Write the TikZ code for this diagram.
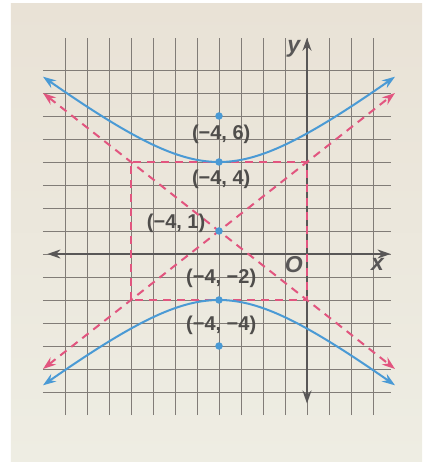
\documentclass[tikz,border=0pt]{standalone}
\usepackage{fontspec}
\setmainfont{Liberation Sans}
\usetikzlibrary{arrows.meta}
\definecolor{paperi1}{HTML}{E9E2D6}
\definecolor{paperi2}{HTML}{EEEDE3}
\definecolor{ruudukko}{HTML}{817C77}
\definecolor{akseli}{HTML}{595757}
\definecolor{sininen}{HTML}{4A9AD5}
\definecolor{punainen}{HTML}{E2557F}
\definecolor{teksti}{HTML}{4F4D4B}

\begin{document}
\begin{tikzpicture}[x=22pt,y=23pt,>={Stealth[length=13pt,width=9pt]},
		piste/.style={circle,fill=sininen,inner sep=0pt,minimum size=7.5pt},
		nimi/.style={text=teksti,font=\bfseries\fontsize{20}{20}\selectfont,inner sep=0pt},
		akselinimi/.style={text=akseli,font=\bfseries\itshape\fontsize{23}{23}\selectfont,inner sep=0pt},
		katko/.style={punainen,line width=2pt,dash pattern=on 8pt off 6pt}]
				\useasboundingbox (-307pt,-208pt) rectangle (115pt,254pt);
				\fill[white] (-307pt,-208pt) rectangle (115pt,254pt);
				\shade[top color=paperi1,bottom color=paperi2] (-296pt,-207pt) rectangle (115pt,250pt);
				% ruudukko
				\foreach \x in {-11,...,3}
					\draw[ruudukko,line width=0.8pt] (\x,-7) -- (\x,9.4);
				\foreach \y in {-6,...,8}
					\draw[ruudukko,line width=0.8pt] (-12,\y) -- (3.8,\y);
				% akselit
				\draw[akseli,line width=2pt,<->] (-11.8,0) -- (3.8,0);
				\draw[akseli,line width=2pt,<->] (0,-6.5) -- (0,9.4);
				\node[akselinimi] at (3.2,-0.45) {x};
				\node[akselinimi] at (-0.6,8.9) {y};
				\node[akselinimi] at (-0.6,-0.45) {O};
				% suorakulmio ja asymptootit
				\coordinate (vy) at (-12,7);
				\coordinate (oa) at (4,-5);
				\coordinate (va) at (-12,-5);
				\coordinate (oy) at (4,7);
				\draw[katko] (-8,-2) rectangle (0,4);
				\draw[katko,<->] (vy) -- (oa);
				\draw[katko,<->] (va) -- (oy);
				% hyperbeli
				\draw[sininen,line width=2pt,<->,domain=-12:4,samples=80,smooth]
					plot (\x,{1+3*sqrt(1+(\x+4)^2/16)});
				\draw[sininen,line width=2pt,<->,domain=-12:4,samples=80,smooth]
					plot (\x,{1-3*sqrt(1+(\x+4)^2/16)});
				% pisteet
				\node[piste] (fokus1) at (-4,6) {};
				\node[piste] (karki1) at (-4,4) {};
				\node[piste] (keski) at (-4,1) {};
				\node[piste] (karki2) at (-4,-2) {};
				\node[piste] (fokus2) at (-4,-4) {};
				\node[nimi] at (-3.9,5.2) {(−4, 6)};
				\node[nimi] at (-3.9,3.25) {(−4, 4)};
				\node[nimi] at (-5.95,1.35) {(−4, 1)};
				\node[nimi] at (-3.9,-1.05) {(−4, −2)};
				\node[nimi] at (-3.9,-3.1) {(−4, −4)};
			\end{tikzpicture}
\end{document}
